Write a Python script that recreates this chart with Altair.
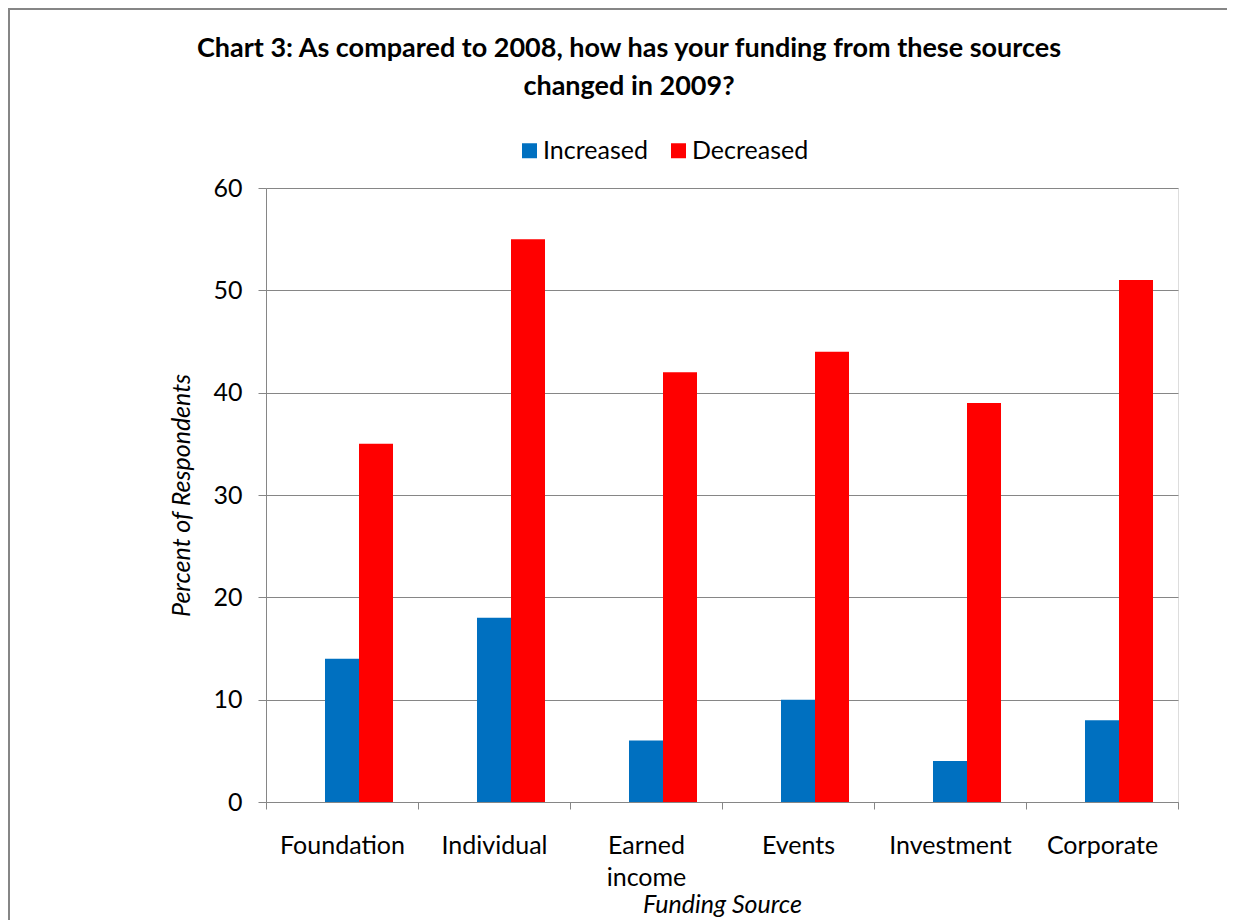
import altair as alt
import pandas as pd

categories = ["Foundation", "Individual", "Earned income", "Events", "Investment", "Corporate"]
increased = [14, 18, 6, 10, 4, 8]
decreased = [35, 55, 42, 44, 39, 51]
series = ["Increased", "Decreased"]
offset_slots = ["(blank)", "Increased", "Decreased"]
colors = ["#0070C0", "#FF0000"]
y_ticks = [0, 10, 20, 30, 40, 50, 60]
title_lines = ["Chart 3: As compared to 2008, how has your funding from these sources", "changed in 2009?"]

rows = []
for c, a, b in zip(categories, increased, decreased):
    rows.append({"source": c, "series": "Increased", "value": a})
    rows.append({"source": c, "series": "Decreased", "value": b})
df = pd.DataFrame(rows)

FONT = "Lato"
GRAY = "#868686"
W, H = 912, 614
PAD_L, PAD_T = 258, 180
TOTAL_W, TOTAL_H = 1219, 912

bars = alt.Chart(df).mark_bar().encode(
    x=alt.X(
        "source:N",
        sort=categories,
        scale=alt.Scale(paddingInner=0, paddingOuter=0),
        axis=alt.Axis(
            title="Funding Source",
            labelAngle=0,
            tickBand="extent",
            tickSize=7,
            tickColor=GRAY,
            domainColor=GRAY,
            labelFont=FONT,
            labelFontSize=25,
            labelColor="#000000",
            labelPadding=24,
            labelLineHeight=32,
            labelExpr="datum.label == 'Earned income' ? ['Earned', 'income'] : datum.label",
            titleFont=FONT,
            titleFontSize=25,
            titleFontStyle="italic",
            titleFontWeight="normal",
            titleColor="#000000",
            titleX=456,
            titleY=110,
            titleAlign="center",
            titleBaseline="alphabetic",
            grid=False,
        ),
    ),
    xOffset=alt.XOffset(
        "series:N",
        scale=alt.Scale(domain=offset_slots, paddingInner=0, paddingOuter=0.735),
    ),
    y=alt.Y(
        "value:Q",
        scale=alt.Scale(domain=[0, 60], nice=False),
        axis=alt.Axis(
            title="Percent of Respondents",
            values=y_ticks,
            tickSize=8,
            tickColor=GRAY,
            domainColor=GRAY,
            gridColor=GRAY,
            labelFont=FONT,
            labelFontSize=25,
            labelColor="#000000",
            labelPadding=16,
            titleFont=FONT,
            titleFontSize=25,
            titleFontStyle="italic",
            titleFontWeight="normal",
            titleColor="#000000",
            titleX=-85,
            titleY=307,
            titleAngle=270,
            titleAlign="center",
            titleBaseline="middle",
        ),
    ),
    color=alt.Color(
        "series:N",
        scale=alt.Scale(domain=series, range=colors),
        legend=alt.Legend(
            title=None,
            orient="none",
            legendX=251,
            legendY=-50,
            direction="horizontal",
            symbolType="square",
            symbolSize=225,
            symbolStrokeWidth=0,
            labelFont=FONT,
            labelFontSize=25,
            labelColor="#000000",
            labelOffset=1,
            columnPadding=18,
            padding=0,
        ),
    ),
)

one_row = pd.DataFrame({"k": [0]})
border = alt.Chart(one_row).mark_rect(
    fill="transparent", stroke=GRAY, strokeWidth=2
).encode(
    x=alt.value(-PAD_L + 1),
    x2=alt.value(1400),
    y=alt.value(-PAD_T + 1),
    y2=alt.value(1200),
)

title = alt.Chart(one_row).mark_text(
    text=title_lines,
    font=FONT,
    fontSize=27,
    fontWeight="bold",
    color="#000000",
    lineHeight=38,
    align="center",
    baseline="alphabetic",
).encode(
    x=alt.value(363),
    y=alt.value(-131),
)

chart = alt.layer(border, title, bars).properties(
    width=W,
    height=H,
    padding={"left": PAD_L, "top": PAD_T, "right": TOTAL_W - PAD_L - W, "bottom": TOTAL_H - PAD_T - H},
    autosize=alt.AutoSizeParams(type="none"),
).configure_view(strokeWidth=0).configure(background="white")

chart.save("out.html", embed_options={"renderer": "svg", "actions": False})
